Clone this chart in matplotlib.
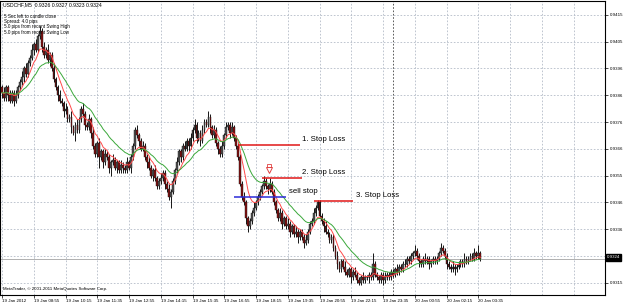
"""
USDCHF M5 chart with stop-loss annotations, MetaTrader style.
"""
import matplotlib
matplotlib.use("Agg")
import matplotlib.pyplot as plt
import pandas as pd

plt.rcParams["font.family"] = ["Liberation Sans", "DejaVu Sans"]

# close prices in 1/10000 (9386 -> 0.9386), one per M5 bar from 19 Jan 07:35
closes = [
    9386, 9384, 9388, 9385, 9383, 9386, 9383, 9385, 9388, 9390,
    9392, 9395, 9393, 9397, 9399, 9402, 9404, 9402, 9407, 9409,
    9403, 9400, 9402, 9398, 9400, 9395, 9391, 9388, 9385, 9383,
    9382, 9379, 9380, 9376, 9377, 9373, 9371, 9374, 9372, 9376,
    9380, 9378, 9374, 9373, 9376, 9371, 9366, 9363, 9367, 9362,
    9364, 9360, 9363, 9362, 9358, 9360, 9361, 9358, 9360, 9357,
    9359, 9358, 9357, 9360, 9358, 9362, 9366, 9372, 9370, 9368,
    9365, 9366, 9362, 9360, 9358, 9355, 9357, 9354, 9351, 9353,
    9354, 9356, 9352, 9350, 9347, 9349, 9353, 9357, 9360, 9364,
    9362, 9366, 9365, 9368, 9366, 9369, 9372, 9374, 9369, 9371,
    9368, 9372, 9375, 9374, 9377, 9373, 9370, 9372, 9367, 9365,
    9363, 9366, 9370, 9373, 9374, 9371, 9373, 9369, 9366, 9362,
    9352, 9347, 9345, 9339, 9336, 9338, 9341, 9343, 9345, 9347,
    9349, 9351, 9353, 9351, 9350, 9352, 9349, 9345, 9342, 9339,
    9341, 9337, 9339, 9336, 9337, 9334, 9336, 9333, 9334, 9332,
    9334, 9332, 9330, 9331, 9334, 9337, 9338, 9341, 9343, 9345,
    9340, 9338, 9336, 9334, 9333, 9331, 9332, 9328, 9325, 9322,
    9320, 9323, 9321, 9319, 9318, 9320, 9317, 9319, 9318, 9316,
    9315, 9317, 9316, 9317, 9317, 9318, 9317, 9322, 9318, 9317,
    9316, 9318, 9316, 9317, 9318, 9317, 9319, 9318, 9320, 9319,
    9321, 9320, 9322, 9322, 9324, 9323, 9325, 9326, 9327, 9325,
    9323, 9322, 9324, 9323, 9324, 9322, 9323, 9324, 9323, 9324,
    9326, 9328, 9327, 9325, 9322, 9321, 9320, 9321, 9320, 9321,
    9322, 9323, 9322, 9324, 9323, 9324, 9325, 9324, 9326, 9325,
    9326, 9324,
]
first_open = 9388

# wick lengths above / below the body, in pips
wick_up = [
    1, 2, 1, 1, 2, 1, 1, 2, 1, 1, 2, 1, 2, 1, 1, 2, 1, 2, 1, 2,
    1, 2, 1, 2, 1, 1, 2, 1, 1, 2, 1, 1, 2, 1, 1, 2, 1, 1, 2, 1,
    1, 2, 1, 1, 2, 1, 2, 1, 1, 2, 1, 1, 2, 1, 1, 1, 2, 1, 1, 1,
    2, 1, 1, 2, 1, 1, 1, 1, 2, 1, 1, 2, 1, 1, 2, 1, 1, 2, 1, 1,
    2, 1, 1, 1, 2, 1, 1, 1, 2, 1, 1, 1, 2, 1, 1, 2, 1, 2, 1, 1,
    1, 2, 1, 1, 2, 1, 1, 2, 1, 1, 1, 2, 1, 2, 1, 1, 2, 1, 1, 1,
    1, 1, 2, 1, 1, 1, 1, 2, 1, 1, 1, 1, 2, 1, 1, 2, 1, 1, 1, 1,
    2, 1, 1, 1, 2, 1, 1, 1, 2, 1, 1, 1, 1, 2, 1, 1, 1, 2, 1, 1,
    1, 1, 1, 2, 1, 1, 1, 1, 1, 2, 1, 1, 1, 2, 1, 1, 1, 1, 2, 1,
    1, 1, 2, 1, 1, 1, 1, 4, 1, 1, 1, 1, 1, 2, 1, 1, 1, 1, 1, 2,
    1, 1, 1, 2, 1, 1, 1, 1, 2, 1, 1, 1, 1, 2, 1, 1, 1, 1, 1, 1,
    1, 2, 1, 1, 1, 1, 1, 2, 1, 1, 1, 1, 1, 2, 1, 1, 1, 1, 2, 1,
    3, 1,
]
wick_dn = [
    2, 1, 1, 2, 1, 1, 2, 1, 1, 1, 1, 2, 1, 1, 1, 1, 2, 1, 1, 1,
    2, 1, 1, 1, 2, 1, 1, 1, 2, 1, 1, 2, 1, 1, 1, 2, 1, 3, 1, 1,
    1, 1, 2, 1, 1, 2, 1, 1, 1, 4, 1, 2, 1, 1, 2, 3, 1, 1, 2, 1,
    1, 2, 1, 1, 1, 2, 1, 1, 1, 2, 1, 1, 1, 2, 1, 1, 2, 1, 1, 1,
    1, 1, 2, 1, 1, 4, 1, 1, 1, 1, 2, 1, 1, 1, 2, 1, 1, 1, 2, 1,
    2, 1, 1, 1, 1, 2, 1, 1, 1, 2, 1, 1, 1, 1, 1, 2, 1, 1, 1, 1,
    1, 1, 1, 2, 2, 1, 1, 1, 1, 1, 1, 1, 1, 1, 2, 1, 1, 1, 1, 1,
    1, 2, 1, 1, 1, 2, 1, 1, 1, 2, 1, 1, 2, 1, 1, 1, 1, 1, 1, 1,
    1, 1, 2, 1, 1, 1, 1, 1, 1, 2, 1, 1, 1, 1, 1, 1, 2, 1, 1, 1,
    1, 1, 1, 1, 1, 2, 1, 1, 1, 1, 1, 1, 2, 1, 1, 1, 1, 1, 1, 1,
    1, 1, 1, 1, 1, 1, 1, 1, 1, 1, 2, 1, 1, 1, 1, 2, 1, 1, 1, 1,
    1, 1, 1, 1, 2, 1, 1, 1, 2, 1, 1, 1, 1, 1, 1, 1, 1, 1, 1, 1,
    1, 1,
]

time_labels = ["19 Jan 2012", "19 Jan 08:55", "19 Jan 10:15", "19 Jan 11:35",
               "19 Jan 12:55", "19 Jan 14:15", "19 Jan 15:35", "19 Jan 16:55",
               "19 Jan 18:15", "19 Jan 19:35", "19 Jan 20:55", "19 Jan 22:15",
               "19 Jan 23:35", "20 Jan 00:55", "20 Jan 02:15", "20 Jan 03:35"]
price_ticks = [0.9415, 0.9405, 0.9395, 0.9385, 0.9375, 0.9365,
               0.9355, 0.9345, 0.9335, 0.9325, 0.9315]
price_labels = ["0.9415", "0.9405", "0.9396", "0.9386", "0.9376", "0.9366",
                "0.9355", "0.9346", "0.9336", "0.9325", "0.9315"]

# stop levels: (label, price, first bar, last bar)
levels = [
    ("1. Stop Loss", 0.93664, 119, 150),
    ("2. Stop Loss", 0.93541, 131, 151),
    ("sell stop", 0.93470, 117, 143),
    ("3. Stop Loss", 0.93455, 157, 177),
]
bid = 0.9324
day_break_bar = 197

info_lines = ["5 Sec left to candle close", "Spread: 4.0 pips",
              "5.0 pips from recent Swing High", "5.0 pips from recent Swing Low"]

# ---- build OHLC
c = [v / 10000 for v in closes]
o = [first_open / 10000] + c[:-1]
h = [max(a, b) + w / 10000 for a, b, w in zip(o, c, wick_up)]
l = [min(a, b) - w / 10000 for a, b, w in zip(o, c, wick_dn)]
x = list(range(len(c)))

fast = pd.Series(c).ewm(span=8, adjust=False).mean()
slow = pd.Series(c).ewm(span=21, adjust=False).mean()

W, H = 625, 305
fig = plt.figure(figsize=(W / 100, H / 100), dpi=100)
ax = fig.add_axes([0 / W, 1 - 295 / H, 605 / W, 294 / H])
ax.set_xlim(-1, 303.8)
ax.set_ylim(0.93104, 0.94202)

grid_kw = dict(color="#b4bcc8", linewidth=0.6, linestyle=(0, (2, 2)), zorder=0)
for p in price_ticks:
    ax.axhline(p, **grid_kw)
for gx in range(0, 304, 16):
    ax.axvline(gx, **grid_kw)
ax.axvline(day_break_bar, color="#404040", linewidth=0.6,
           linestyle=(0, (2, 2)), zorder=0.5)
ax.axhline(bid, color="#b0b0b0", linewidth=0.7, zorder=0.6)

# candles
up_col, dn_col = "#505050", "#850f0f"
ax.vlines(x, l, h, color="#151515", linewidth=0.7, zorder=2)
for i in x:
    body = c[i] - o[i]
    if abs(body) < 1e-6:
        ax.hlines(c[i], i - 0.45, i + 0.45, color="#151515", linewidth=0.6, zorder=3)
        continue
    ax.bar(i, body, bottom=o[i], width=0.9,
           color=up_col if body > 0 else dn_col,
           edgecolor="#151515", linewidth=0.3, zorder=3)

ax.plot(x, fast, color="#ff4a4a", linewidth=0.7, zorder=4)
ax.plot(x, slow, color="#3aa83a", linewidth=0.7, zorder=4)

# stop loss / sell stop levels
for name, price, b0, b1 in levels:
    col = "#2b2bd8" if name == "sell stop" else "#e01818"
    ax.hlines(price, b0, b1, color=col, linewidth=1.1, zorder=5)
    tx = b1 + 1.5 if name in ("sell stop", "3. Stop Loss") else 151
    ax.text(tx, price + 0.00022, name, fontsize=5.6, color="black",
            va="center", ha="left", zorder=6)
# swing-high arrow (hollow down arrow)
ax.plot([134.5], [0.93572], marker="v", markersize=4.5, markerfacecolor="white",
        markeredgecolor="#e04040", markeredgewidth=0.7, zorder=6)
ax.plot([134.5], [0.93585], marker="s", markersize=2.2, markerfacecolor="white",
        markeredgecolor="#e04040", markeredgewidth=0.6, zorder=5.9)

# axes styling
for s in ax.spines.values():
    s.set_color("black")
    s.set_linewidth(0.8)
ax.yaxis.tick_right()
ax.set_yticks(price_ticks)
ax.set_yticklabels(price_labels)
ax.set_xticks(range(0, 16 * len(time_labels), 16))
ax.set_xticklabels(time_labels, ha="left")
ax.tick_params(axis="both", length=2, width=0.5, labelsize=3.2, pad=1,
               colors="black")
ax.tick_params(axis="y", pad=1.5)

# current price tag
fig.text(607 / W, 1 - 257.5 / H, "0.9324", fontsize=3.2, color="white",
         va="center", ha="left", zorder=10,
         bbox=dict(boxstyle="square,pad=0.25", fc="black", ec="black"))

# info overlay
fig.text(3 / W, 1 - 5 / H, "USDCHF,M5  0.9326 0.9327 0.9323 0.9324",
         fontsize=3.7, va="center", ha="left")
for k, line in enumerate(info_lines):
    fig.text(4 / W, 1 - (16 + 5.4 * k) / H, line, fontsize=3.3,
             va="center", ha="left")
fig.text(3 / W, 1 - 289 / H, "MetaTrader, \u00a9 2001-2011 MetaQuotes Software Corp.",
         fontsize=3.2, va="center", ha="left")

fig.savefig("out.png", dpi=100)
